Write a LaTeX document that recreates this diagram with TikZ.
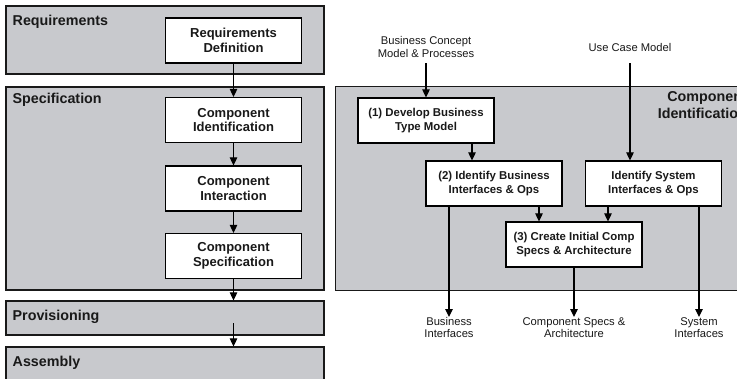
\documentclass[tikz,border=0pt]{standalone}
\usepackage{fontspec}
\setmainfont{Liberation Sans}
\usetikzlibrary{arrows.meta}

\definecolor{bandgray}{RGB}{200,201,205}
\definecolor{inkdark}{RGB}{25,25,25}

\tikzset{
  band/.style={draw=inkdark, line width=1.2pt, fill=bandgray, inner sep=0pt},
  bandlabel/.style={font=\fontsize{14.3}{17}\selectfont\bfseries, text=inkdark, inner sep=0pt},
  phasebox/.style={draw=black, line width=1.2pt, fill=white, minimum width=136pt,
    minimum height=45pt, align=center, inner sep=0pt, text=inkdark,
    font=\fontsize{13}{14.5}\selectfont\bfseries},
  taskbox/.style={phasebox, font=\fontsize{11.4}{13.3}\selectfont\bfseries},
  plainlabel/.style={align=center, inner sep=0pt, text=inkdark,
    font=\fontsize{11.2}{12.5}\selectfont},
  arr/.style={line width=1.1pt, draw=black, -{Triangle[width=7.5pt,length=8pt]}},
}

\begin{document}
\begin{tikzpicture}[x=1pt, y=-1pt]
\useasboundingbox (0,0) rectangle (737,378);
\clip (0,0) rectangle (737,378);
\fill[white] (0,0) rectangle (737,378);

% ---- workflow phases (left) ----
\node[band, minimum width=318pt, minimum height=68pt] (req) at (165,40) {};
\node[band, minimum width=318pt, minimum height=203pt] (spec) at (165,188.5) {};
\node[band, minimum width=318pt, minimum height=34pt] (prov) at (165,318) {};
\node[band, minimum width=318pt, minimum height=43pt] (asm) at (165,368.5) {};

\node[bandlabel, anchor=west] (reqlbl) at (12.5,22) {Requirements};
\node[bandlabel, anchor=west] (speclbl) at (12.5,100) {Specification};
\node[bandlabel, anchor=west] (provlbl) at (12.5,317) {Provisioning};
\node[bandlabel, anchor=west] (asmlbl) at (12.5,362.5) {Assembly};

\node[phasebox] (reqdef) at (233.5,40.5) {Requirements\\Definition};
\node[phasebox] (compid) at (233.5,120) {Component\\Identification};
\node[phasebox] (compint) at (233.5,188.5) {Component\\Interaction};
\node[phasebox] (compspec) at (233.5,256) {Component\\Specification};

\coordinate (provmid) at (233.5,323);

\draw[arr] (reqdef) -- (compid);
\draw[arr] (compid) -- (compint);
\draw[arr] (compint) -- (compspec);
\draw[arr] (compspec) -- (prov.north -| compspec);
\draw[arr] (provmid) -- (asm.north -| provmid);

% ---- component identification stage (right) ----
\node[band, anchor=north west, minimum width=430pt, minimum height=204pt] (cidband) at (335,86) {};
\node[bandlabel, anchor=north east, align=right] (cidlbl) at (747,91) {Component\\Identification};

\node[plainlabel] (bcm) at (426,47) {Business Concept\\Model \& Processes};
\node[plainlabel] (ucm) at (630,47) {Use Case Model};
\coordinate (bcmout) at (426,63);
\coordinate (ucmout) at (630,63);

\node[taskbox] (b1) at (426,120.5) {(1) Develop Business\\Type Model};
\node[taskbox] (b2) at (494,183.5) {(2) Identify Business\\Interfaces \& Ops};
\node[taskbox] (sys) at (653.5,183.5) {Identify System\\Interfaces \& Ops};
\node[taskbox] (b3) at (574,244.5) {(3) Create Initial Comp\\Specs \& Architecture};

\node[plainlabel, anchor=north] (bi) at (449,317) {Business\\Interfaces};
\node[plainlabel, anchor=north] (csa) at (574,317) {Component Specs \&\\Architecture};
\node[plainlabel, anchor=north] (si) at (699,317) {System\\Interfaces};

\coordinate (x472) at (472,0);
\coordinate (x539) at (539,0);
\coordinate (x608) at (608,0);

\draw[arr] (bcmout) -- (b1.north);
\draw[arr] (ucmout) -- (sys.north -| ucmout);
\draw[arr] (b1.south -| x472) -- (b2.north -| x472);
\draw[arr] (b2.south -| x539) -- (b3.north -| x539);
\draw[arr] (sys.south -| x608) -- (b3.north -| x608);
\draw[arr] (b2.south -| bi) -- (bi.north);
\draw[arr] (b3.south) -- (csa.north);
\draw[arr] (sys.south -| si) -- (si.north);
\end{tikzpicture}
\end{document}
